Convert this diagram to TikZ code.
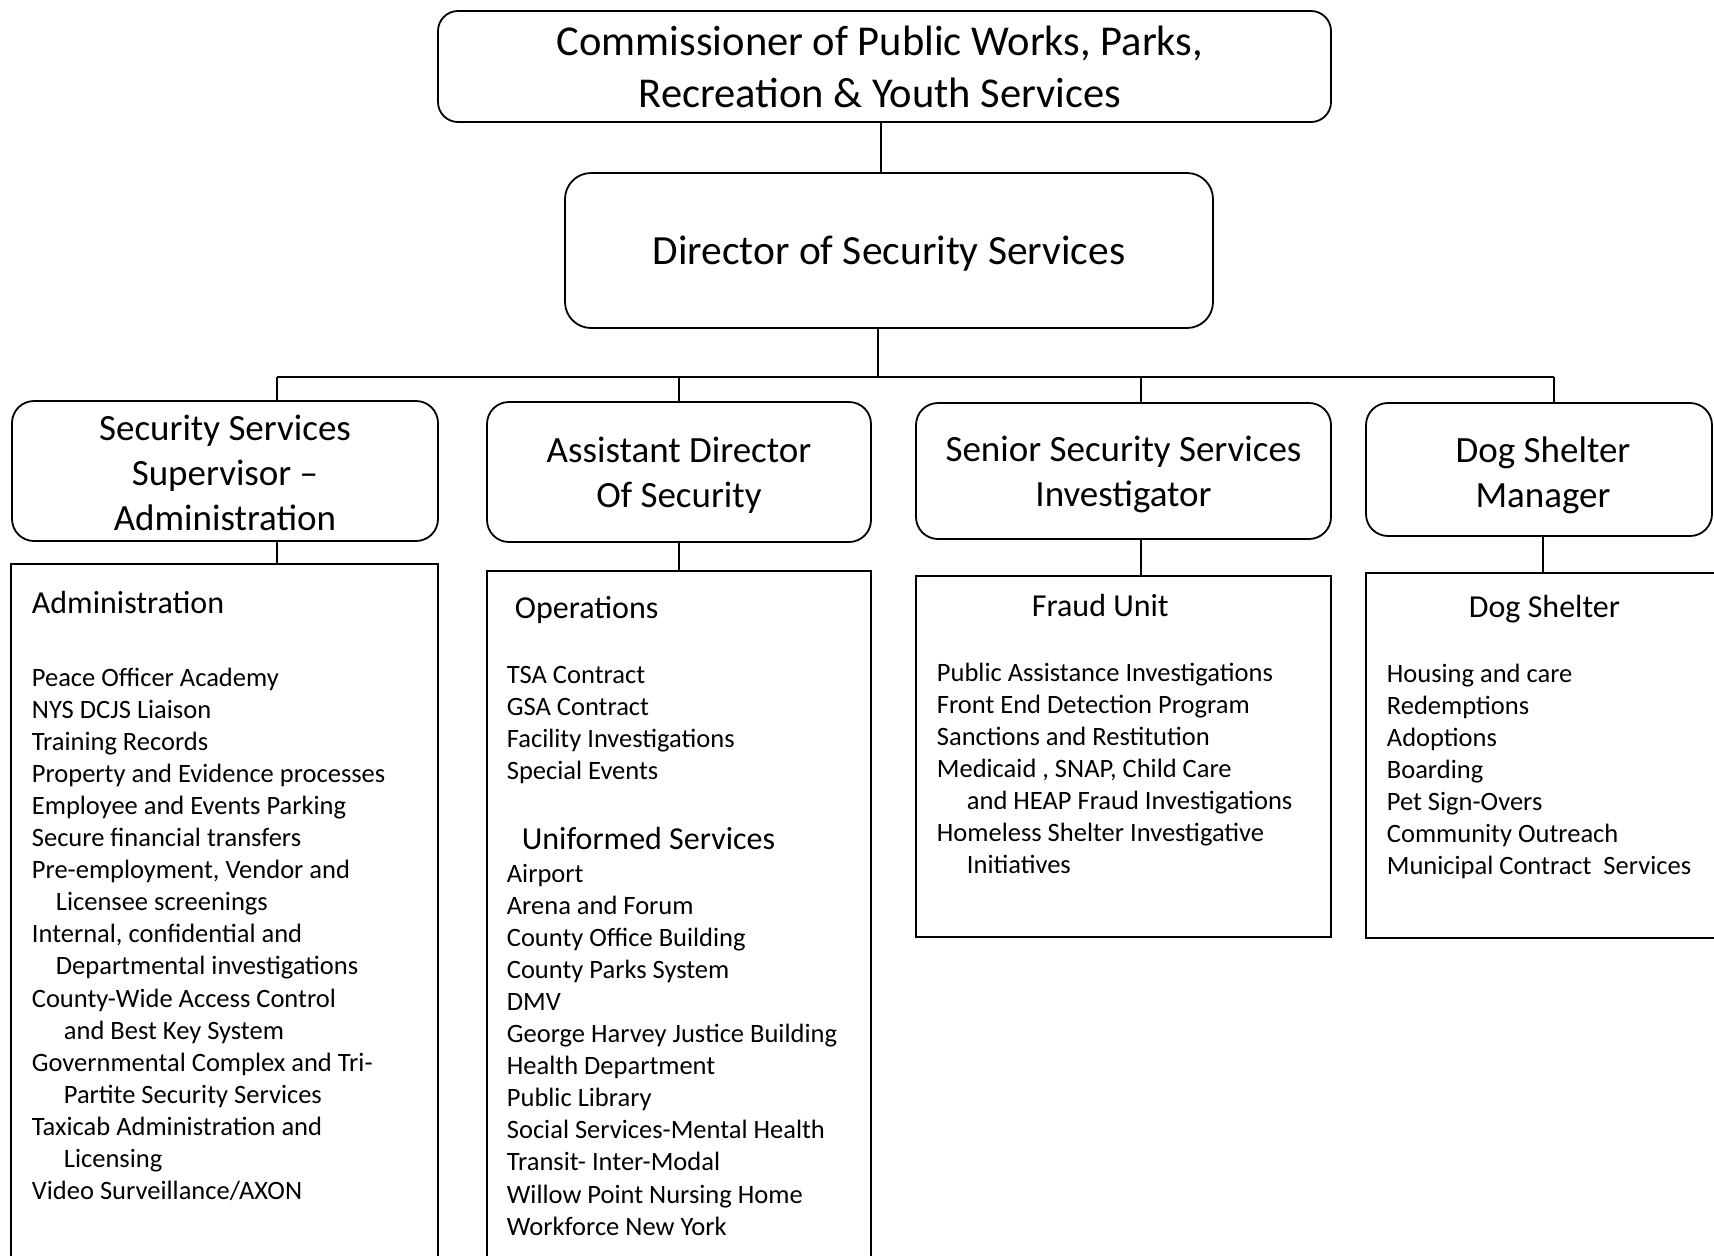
\documentclass[tikz,border=0pt]{standalone}
\usepackage{fontspec}
\setmainfont{Carlito}
\begin{document}
\begin{tikzpicture}[x=1pt,y=-1pt,
  line width=1.8pt,
  rbox/.style={draw, rounded corners=22pt, inner sep=0pt},
  rtext/.style={inner sep=0pt, align=center, font=\fontsize{37}{45}\selectfont},
  tbox/.style={draw, inner sep=0pt},
  conn/.style={line width=1.6pt},
  head/.style={anchor=base west, inner sep=0pt, font=\fontsize{32}{39}\selectfont},
  lst/.style={anchor=base west, inner sep=0pt, font=\fontsize{26.5}{32.1}\selectfont},
]
\useasboundingbox (0,0) rectangle (1714,1256);
\fill[white] (0,0) rectangle (1714,1256);
\clip (0,0) rectangle (1714,1256);

% top boxes
\node[rbox, minimum width=893pt, minimum height=111pt, rounded corners=20pt] (comm) at (884.5,66.5) {};
\node[rtext, font=\fontsize{42.5}{52}\selectfont] (commt) at (880,67)
  {Commissioner of Public Works, Parks,\\Recreation \& Youth Services};
\node[rbox, minimum width=648pt, minimum height=155pt, rounded corners=26pt] (dir) at (889,250.5) {};
\node[rtext, font=\fontsize{41.5}{50}\selectfont] (dirt) at (889,254)
  {Director of Security Services};

% role boxes
\node[rbox, minimum width=426pt, minimum height=140pt] (r1) at (225,471) {};
\node[rtext] (r1t) at (225,473) {Security Services\\Supervisor \textendash\\Administration};
\node[rbox, minimum width=384pt, minimum height=140pt] (r2) at (679,472) {};
\node[rtext] (r2t) at (679,475.5) {Assistant Director\\Of Security};
\node[rbox, minimum width=415pt, minimum height=136pt] (r3) at (1123.5,471) {};
\node[rtext] (r3t) at (1123.5,474.5) {Senior Security Services\\Investigator};
\node[rbox, minimum width=346pt, minimum height=133pt] (r4) at (1539,469.5) {};
\node[rtext] (r4t) at (1543,475) {Dog Shelter\\Manager};

% text boxes
\node[tbox, minimum width=427pt, minimum height=706pt] (t1) at (224.5,917) {};
\node[tbox, minimum width=384pt, minimum height=699pt] (t2) at (679,920.5) {};
\node[tbox, minimum width=415pt, minimum height=361pt] (t3) at (1123.5,756.5) {};
\node[tbox, minimum width=354pt, minimum height=365pt] (t4) at (1543,755.5) {};

% connectors
\coordinate (top) at (881,66);
\coordinate (bus) at (878,377);
\coordinate (busL) at (277,377);
\coordinate (busR) at (1554,377);
\coordinate (b2) at (679,377);
\coordinate (b3) at (1141,377);
\coordinate (c4) at (1543,377);
\draw[conn] (comm.south -| top) -- (dir.north -| top);
\draw[conn] (dir.south -| bus) -- (bus);
\draw[conn] (busL) -- (busR);
\draw[conn] (busL) -- (busL |- r1.north);
\draw[conn] (b2) -- (b2 |- r2.north);
\draw[conn] (b3) -- (b3 |- r3.north);
\draw[conn] (busR) -- (busR |- r4.north);
\draw[conn] (r1.south -| busL) -- (t1.north -| busL);
\draw[conn] (r2.south) -- (t2.north);
\draw[conn] (r3.south -| b3) -- (t3.north -| b3);
\draw[conn] (r4.south -| c4) -- (t4.north -| c4);

% column 1
\node[head] (h1) at (31,613) {Administration};
\node[lst] (l1) at (31,686) {\begin{tabular}[t]{@{}l@{}}
Peace Officer Academy\\
NYS DCJS Liaison\\
Training Records\\
Property and Evidence processes\\
Employee and Events Parking\\
Secure financial transfers\\
Pre-employment, Vendor and\\
\hspace*{24pt}Licensee screenings\\
Internal, confidential and\\
\hspace*{24pt}Departmental investigations\\
County-Wide Access Control\\
\hspace*{32pt}and Best Key System\\
Governmental Complex and Tri-\\
\hspace*{32pt}Partite Security Services\\
Taxicab Administration and\\
\hspace*{32pt}Licensing\\
Video Surveillance/AXON
\end{tabular}};

% column 2
\node[head] (h2) at (514,618) {Operations};
\node[lst] (l2) at (506,683) {\begin{tabular}[t]{@{}l@{}}
TSA Contract\\
GSA Contract\\
Facility Investigations\\
Special Events
\end{tabular}};
\node[head] (h2b) at (521,849) {Uniformed Services};
\node[lst] (l2b) at (506,882) {\begin{tabular}[t]{@{}l@{}}
Airport\\
Arena and Forum\\
County Office Building\\
County Parks System\\
DMV\\
George Harvey Justice Building\\
Health Department\\
Public Library\\
Social Services-Mental Health\\
Transit- Inter-Modal\\
Willow Point Nursing Home\\
Workforce New York
\end{tabular}};

% column 3
\node[head] (h3) at (1031,616) {Fraud Unit};
\node[lst] (l3) at (936,681) {\begin{tabular}[t]{@{}l@{}}
Public Assistance Investigations\\
Front End Detection Program\\
Sanctions and Restitution\\
Medicaid , SNAP, Child Care\\
\hspace*{30pt}and HEAP Fraud Investigations\\
Homeless Shelter Investigative\\
\hspace*{30pt}Initiatives
\end{tabular}};

% column 4
\node[head] (h4) at (1468,617) {Dog Shelter};
\node[lst] (l4) at (1386,682) {\begin{tabular}[t]{@{}l@{}}
Housing and care\\
Redemptions\\
Adoptions\\
Boarding\\
Pet Sign-Overs\\
Community Outreach\\
Municipal Contract\ \ Services
\end{tabular}};
\end{tikzpicture}
\end{document}
